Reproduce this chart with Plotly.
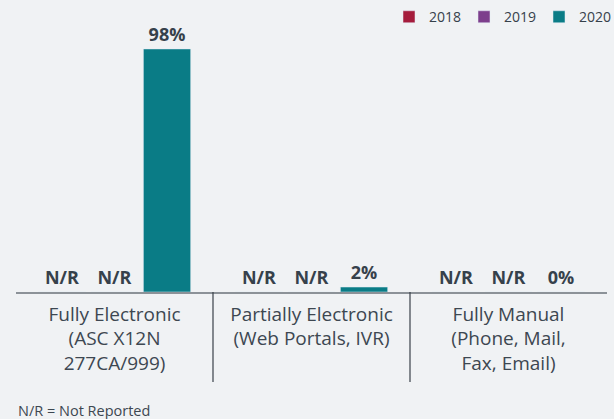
import plotly.graph_objects as go

categories = ["Fully Electronic<br>(ASC X12N<br>277CA/999)",
              "Partially Electronic<br>(Web Portals, IVR)",
              "Fully Manual<br>(Phone, Mail,<br>Fax, Email)"]
years = ["2018", "2019", "2020"]
values_2018 = [None, None, None]
values_2019 = [None, None, None]
values_2020 = [98, 2, 0]
colors = ["#a51c3c", "#7d3f8c", "#0a7c86"]

series = [values_2018, values_2019, values_2020]
TXT = "#36414b"
FONT = "'Open Sans', Lato, sans-serif"

fig = go.Figure()
for yr, vals, col in zip(years, series, colors):
    yvals = [0 if v is None else v for v in vals]
    texts = ["N/R" if v is None else f"{v}%" for v in vals]
    fig.add_trace(go.Bar(
        name=yr, x=categories, y=yvals, marker_color=col,
        text=texts, textposition="outside", cliponaxis=False,
        textfont=dict(size=18, color=TXT, family=FONT, weight="bold"),
        hoverinfo="skip",
    ))

shapes = []
for b in [0.5, 1.5]:
    shapes.append(dict(type="line", xref="x", yref="paper", x0=b, x1=b,
                       y0=0, y1=-0.363, line=dict(color="#3a4048", width=1.2)))

fig.update_layout(
    width=614, height=419,
    margin=dict(l=16, r=7, t=44, b=127, autoexpand=False),
    paper_bgcolor="#f0f2f4", plot_bgcolor="#f0f2f4",
    barmode="group", bargap=0.2, bargroupgap=0.1,
    font=dict(family=FONT, color=TXT),
    showlegend=True,
    legend=dict(orientation="h", xref="container", yref="container",
                x=1.0, xanchor="right", y=0.959, yanchor="middle",
                font=dict(size=14, color=TXT), entrywidth=30, entrywidthmode="pixels",
                bgcolor="rgba(0,0,0,0)"),
    xaxis=dict(showline=True, linecolor="#8c9298", linewidth=1.5, ticks="",
               tickfont=dict(size=19, color="#3d4751"), showgrid=False,
               ticklabelstandoff=4),
    yaxis=dict(range=[0, 100], visible=False),
    shapes=shapes,
    annotations=[dict(text="N/R = Not Reported", xref="paper", yref="paper",
                      x=0, y=-0.476, xanchor="left", yanchor="middle",
                      showarrow=False, font=dict(size=14.5, color="#3d4751"))],
)

fig.write_html("out.html", config={"displayModeBar": False},
               post_script="document.body.style.margin='0';"
                           "document.body.style.background='#f0f2f4';")
